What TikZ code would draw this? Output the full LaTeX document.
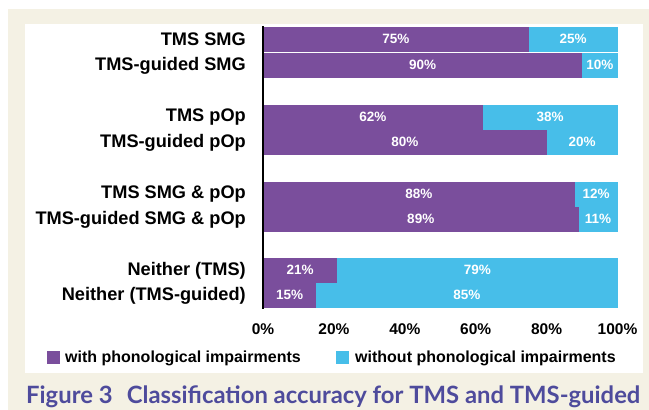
\documentclass[tikz,border=0pt]{standalone}
\usepackage{fontspec}
\setmainfont{Liberation Sans}
\newfontfamily\capfont{Lato}
\definecolor{cream}{HTML}{F4F1E4}
\definecolor{purp}{HTML}{7A4E9C}
\definecolor{cyanb}{HTML}{47BEE9}
\definecolor{capcol}{HTML}{4E4B9C}
\begin{document}
\begin{tikzpicture}[x=1pt,y=-1pt,
  lab/.style={font=\fontsize{18.2}{20}\selectfont\bfseries, inner sep=0pt, anchor=east},
  pct/.style={font=\fontsize{13.5}{15}\selectfont\bfseries, text=white, inner sep=0pt},
  axlab/.style={font=\fontsize{15.5}{17}\selectfont\bfseries, inner sep=0pt},
  leg/.style={font=\fontsize{16}{18}\selectfont\bfseries, inner sep=0pt, anchor=west}]
\useasboundingbox (0,0) rectangle (649,410);
\fill[white] (0,0) rectangle (649,410);
\fill[cream] (8,9) rectangle (649,410);
\fill[white] (25,24) rectangle (643,373);
\foreach \t/\p/\lab [count=\i] in {27/75/{TMS SMG},53/90/{TMS-guided SMG},105/62/{TMS pOp},130/80/{TMS-guided pOp},182/88/{TMS SMG \& pOp},207/89/{TMS-guided SMG \& pOp},258/21/{Neither (TMS)},283/15/{Neither (TMS-guided)}}{
  \pgfmathsetmacro\xm{263+3.545*\p}
  \pgfmathsetmacro\q{int(100-\p)}
  \fill[purp] (263,\t) rectangle (\xm,\t+24.5);
  \fill[cyanb] (\xm,\t) rectangle (617.5,\t+24.5);
  \node[pct] (p\i) at ({(263+\xm)/2},\t+12.25) {\p\%};
  \node[pct] (q\i) at ({(\xm+617.5)/2},\t+12.25) {\q\%};
  \node[lab] (l\i) at (246,\t+12.5) {\lab};
}
\draw[line width=2pt] (263,26) -- (263,309);
\foreach \v [count=\j] in {0,20,40,60,80,100}{
  \node[axlab] (a\j) at (263+3.545*\v,329) {\v\%};
}
\fill[purp] (47,351) rectangle (60,364);
\node[leg] (lg1) at (65,358) {with phonological impairments};
\fill[cyanb] (336,351) rectangle (349,364);
\node[leg] (lg2) at (355,358) {without phonological impairments};
\node[inner sep=0pt, anchor=west, text=capcol] (cap) at (26,397)
  {\resizebox{614pt}{!}{\capfont\bfseries Figure 3\hspace{0.6em}Classification accuracy for TMS and TMS-guided}};
\end{tikzpicture}
\end{document}
